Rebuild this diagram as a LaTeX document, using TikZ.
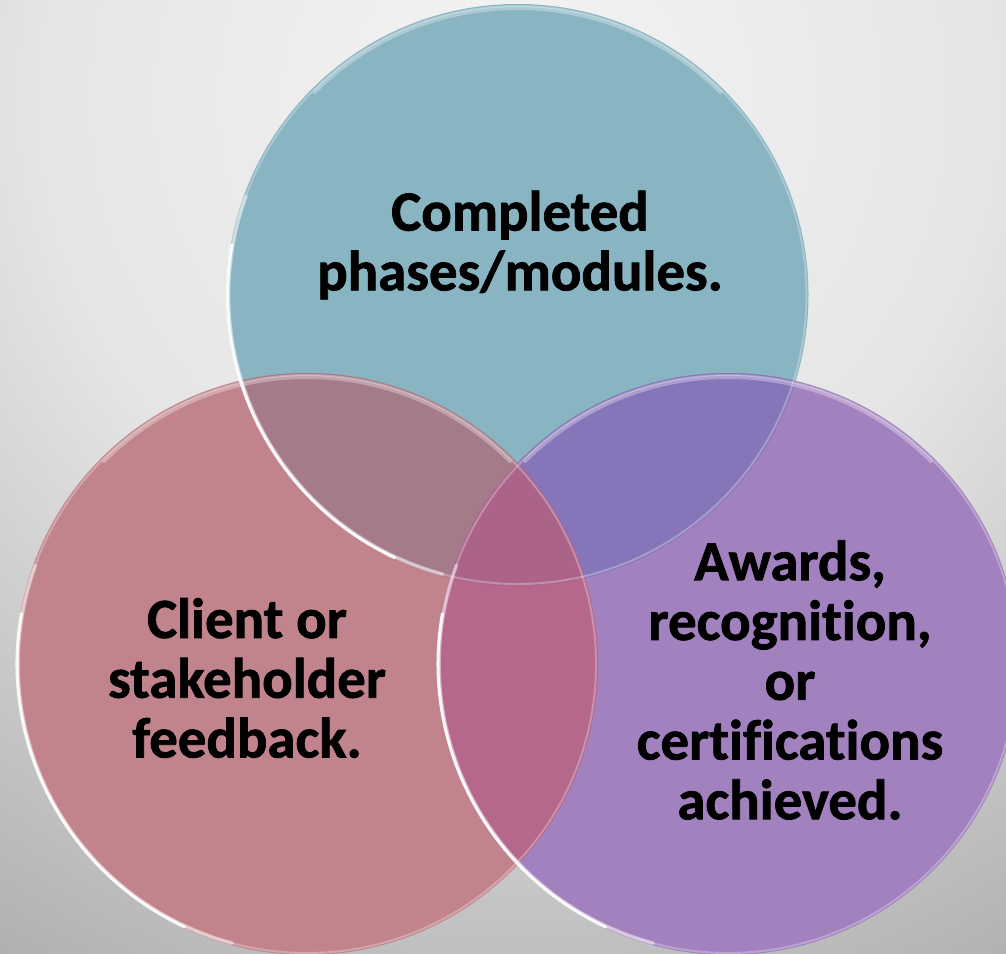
\documentclass[tikz,border=0pt]{standalone}
\usepackage{fontspec}
\setmainfont[Ligatures=CommonOff, BoldFeatures={FakeBold=1.3}]{Carlito}
\usetikzlibrary{calc}
\definecolor{teal0}{RGB}{137,180,194}
\definecolor{pink0}{RGB}{194,132,140}
\definecolor{purp0}{RGB}{162,129,191}
\definecolor{ovtl}{RGB}{166,123,137}
\definecolor{ovtr}{RGB}{134,118,185}
\definecolor{ovlr}{RGB}{181,104,140}
\definecolor{ovall}{RGB}{172,99,137}
\definecolor{bga}{RGB}{244,244,244}
\definecolor{bgb}{RGB}{229,229,229}
\definecolor{bgc}{RGB}{205,205,205}
\definecolor{bgd}{RGB}{176,176,176}
\pgfdeclareradialshading{bgshade}{\pgfpoint{0bp}{0bp}}{color(0bp)=(bga); color(12bp)=(bgb); color(18bp)=(bgc); color(25bp)=(bgd); color(50bp)=(bgd)}
\begin{document}
\begin{tikzpicture}[x=0.03cm,y=-0.03cm,
  lbl/.style={align=center, inner sep=0pt, font=\bfseries\fontsize{48.5}{51}\selectfont},
  rim/.style={draw=white, draw opacity=0.28, line width=0.06cm},
  hiA/.style={draw=white, draw opacity=0.45, line width=0.11cm, line cap=round},
  hiB/.style={draw=white, draw opacity=0.9, line width=0.09cm, line cap=round},
  topband/.style={draw=white, draw opacity=0.3, line width=0.12cm, line cap=round}]
\useasboundingbox (0,0) rectangle (1006,954);
\begin{scope}
\clip (0,0) rectangle (1006,954);
\shade[shading=bgshade] (518,100) circle[radius=1000];
\coordinate (T) at (517.5,295);
\coordinate (L) at (307,664);
\coordinate (R) at (728,664);
\fill[teal0] (T) circle[radius=291];
\fill[pink0] (L) circle[radius=291];
\fill[purp0] (R) circle[radius=291];
\begin{scope}
  \clip (L) circle[radius=291];
  \fill[ovlr] (R) circle[radius=291];
\end{scope}
\begin{scope}
  \clip (T) circle[radius=291];
  \fill[ovtl] (L) circle[radius=291];
  \fill[ovtr] (R) circle[radius=291];
  \clip (L) circle[radius=291];
  \fill[ovall] (R) circle[radius=291];
\end{scope}
\foreach \c in {T,L,R}{
  \draw[rim] (\c) circle[radius=289];
  \draw[topband] ($(\c)+(225:287)$) arc[start angle=225,end angle=315,radius=287];
  \draw[hiA] ($(\c)+(105:289)$) arc[start angle=105,end angle=200,radius=289];
  \draw[hiB] ($(\c)+(115:290)$) arc[start angle=115,end angle=190,radius=290];
}
\node[lbl] (tA) at (520,245) {Completed\\phases/modules.};
\node[lbl] (tB) at (247,678) {Client or\\stakeholder\\feedback.};
\node[lbl] (tC) at (790,680) {Awards,\\recognition,\\or\\certifications\\achieved.};
\end{scope}
\end{tikzpicture}
\end{document}
